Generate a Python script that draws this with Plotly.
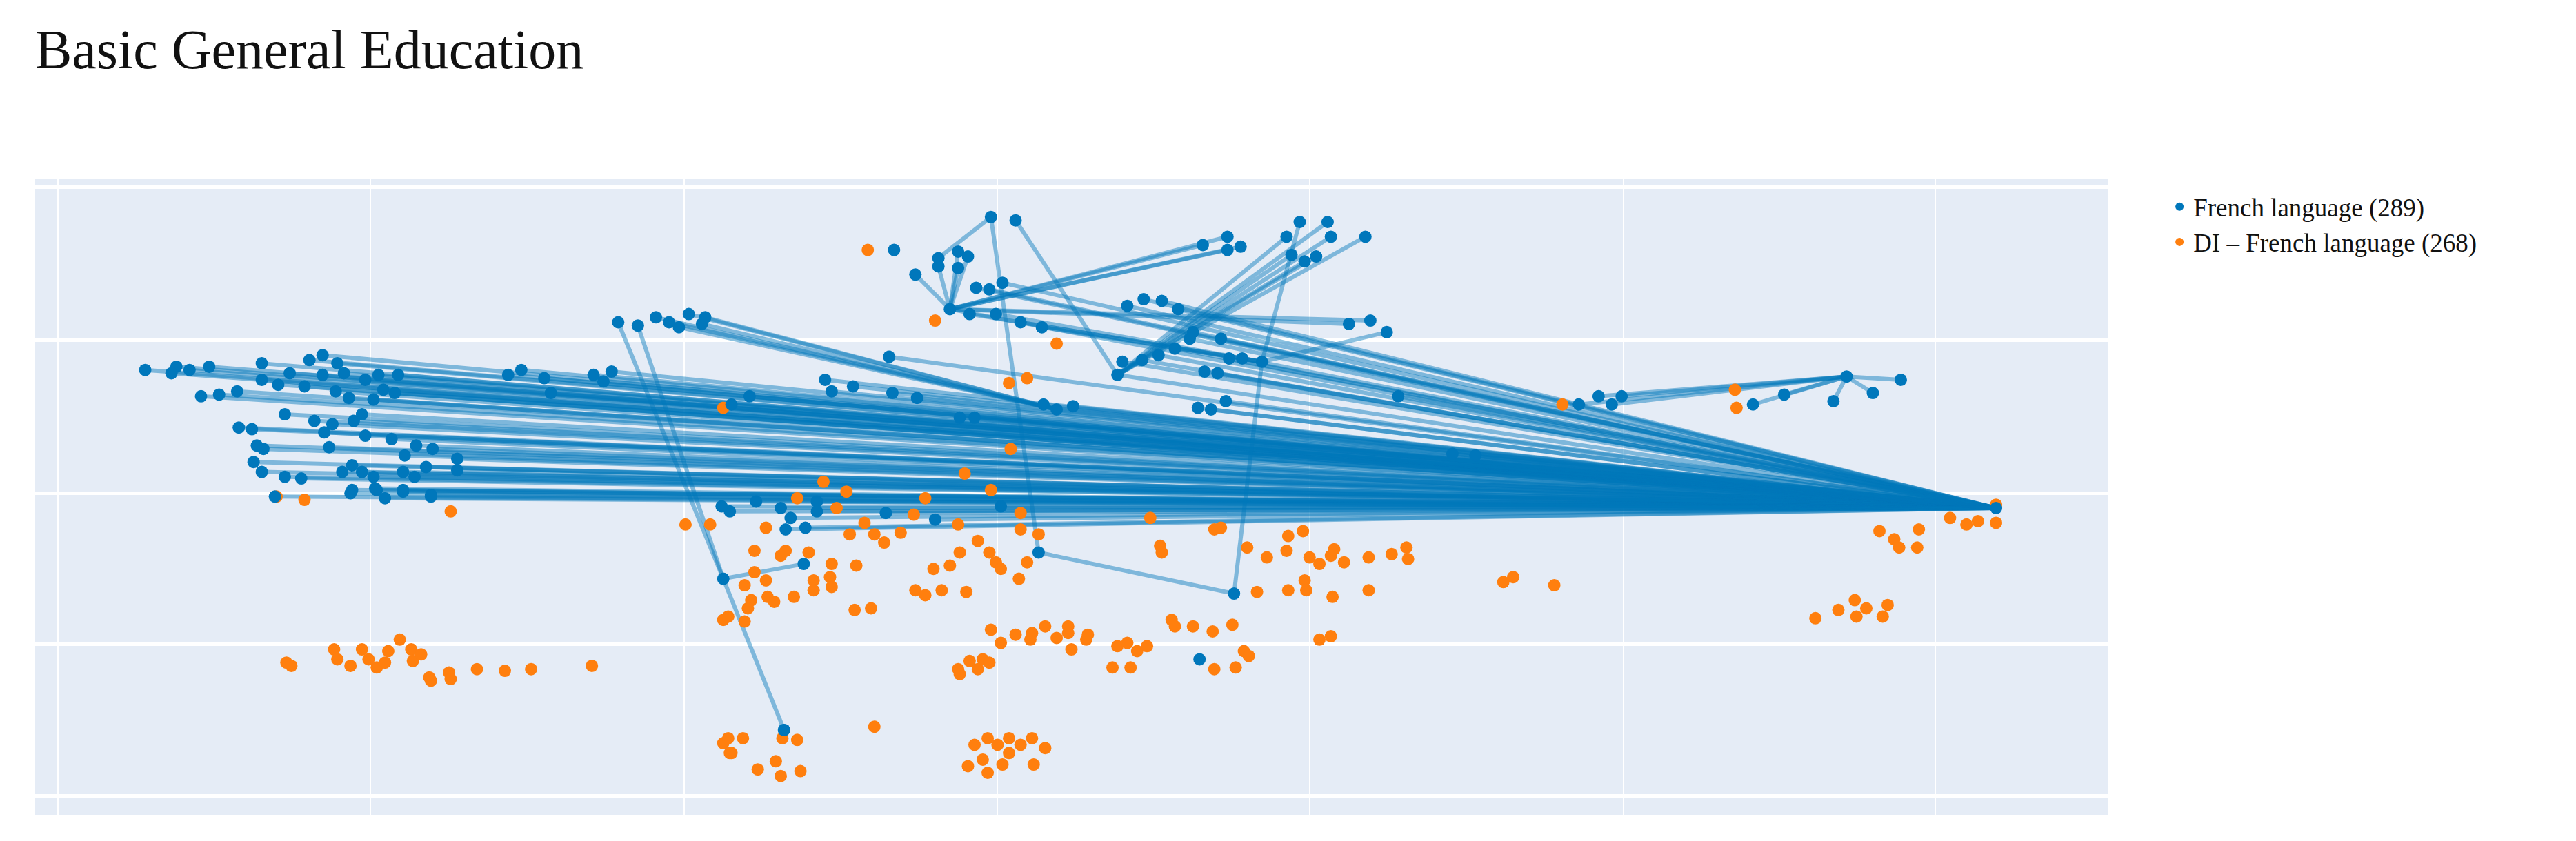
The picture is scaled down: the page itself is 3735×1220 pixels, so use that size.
import plotly.graph_objects as go

# ---- data (axis units are arbitrary, no tick labels shown) ----
x_grid = [32, 222, 413, 604, 794, 985, 1175]
y_grid = [111, 204, 297, 389, 481]

# key nodes that other nodes link to
key_names = ["hub", "k1", "k2", "k3", "k4", "k5", "k6", "k7", "k8", "k9", "k10", "k11", "k12", "k13"]
key_x = [1212, 640, 575, 437, 474, 1121, 748, 765, 600, 629, 568, 677, 606, 615]
key_y = [306, 246, 185, 349, 441, 226, 358, 217, 129, 333, 154, 225, 305, 131]
key_to = [None, "hub", "hub", "k4", None, None, None, "k6", "k9", "k6", "k8", "hub", "hub", "k11"]

left_x = [85, 104, 101, 112, 124, 156, 156, 173, 166, 182, 185, 193, 193, 202, 206, 201, 209, 219, 227, 230,
          239, 237, 224, 119, 130, 141, 170, 188, 199, 212, 217, 142, 150, 219, 194, 197, 235, 250, 260, 275,
          153, 157, 151, 156, 170, 180, 205, 211, 217, 224, 242, 243, 249, 256, 211, 225, 242, 259, 164, 275,
          210, 226, 231, 242, 259]
left_y = [222, 220, 224, 222, 220, 218, 228, 224, 231, 232, 216, 213, 225, 218, 224, 235, 239, 228, 225, 234,
          225, 236, 240, 238, 237, 235, 249, 253, 255, 253, 249, 257, 258, 262, 260, 269, 264, 268, 270, 276,
          268, 270, 278, 284, 287, 288, 284, 280, 284, 287, 284, 274, 287, 281, 295, 294, 295, 298, 299, 283,
          297, 295, 300, 296, 299]

mid_x = [306, 314, 328, 358, 369, 364, 332, 499, 516, 503, 540, 555, 538, 581, 590, 453, 442,
         632, 650, 726, 734, 743, 680, 692, 702, 712, 723, 721, 740, 745, 753, 730, 738,
         457, 441, 472, 478, 475, 487, 494, 494, 536, 566, 436, 591, 599, 607, 683, 693, 704, 714,
         848, 881, 895]
mid_y = [225, 222, 227, 225, 223, 229, 236, 228, 232, 235, 236, 239, 214, 251, 251, 238, 243,
         243, 244, 245, 246, 241, 217, 216, 213, 209, 199, 203, 203, 215, 215, 223, 224,
         302, 308, 306, 312, 319, 318, 302, 308, 309, 313, 305, 172, 173, 169, 183, 179, 180, 185,
         238, 273, 274]

arc_x = [396, 404, 410, 416, 424, 426]
arc_y = [190, 193, 196, 188, 194, 190]

steep_x = [373, 385, 486]
steep_y = [193, 195, 340]

top_x = [580, 586, 580, 568, 554, 729, 744, 744, 752, 818, 831]
top_y = [150, 153, 160, 159, 164, 146, 141, 149, 147, 194, 192]

drop_x = [587, 603, 618, 631, 841, 788]
drop_y = [188, 188, 193, 196, 199, 132]

ne_x = [780, 807, 828, 783, 791, 798, 805]
ne_y = [141, 141, 141, 152, 156, 153, 132]

east_x = [958, 970, 978, 984, 1064, 1083, 1113, 1137, 1154]
east_y = [243, 238, 243, 238, 243, 237, 241, 236, 228]

lone_x = [541, 727, 474]
lone_y = [149, 398, 441]

orange_x = [525, 566, 640, 611, 622, 165, 182, 271, 414, 429, 437, 437, 442,
            171, 174, 200, 202, 210, 217, 221, 226, 233, 231, 240, 247, 248, 253, 258, 259, 270, 271, 287, 304, 320, 357,
            463, 456, 472, 475, 456, 463, 450, 464, 468, 454, 452, 440, 450, 480, 492, 492, 502, 503, 503, 518, 517, 527,
            489, 506, 523, 514, 529, 535, 545, 580, 592, 581, 599, 603, 606, 618, 618, 629, 622, 617, 565, 575, 554, 560,
            570, 585, 697, 703, 704, 736, 740, 756, 768, 780, 781, 790, 794, 800, 807, 809, 815, 830, 844, 853, 854,
            762, 781, 791, 792, 808, 830, 710, 712, 723, 735, 747, 754, 757, 736, 749, 674, 677, 683, 685, 689, 695,
            800, 807, 600, 606, 615, 624, 625, 633, 640, 647, 647, 649, 658, 659, 580, 581, 587, 592, 595, 599,
            440, 449, 441, 458, 469, 472, 473, 482, 484, 529, 586, 590, 595, 598, 598, 604, 607, 611, 611, 618, 625,
            626, 633, 948, 1053, 1054, 1184, 1194, 1201, 1212, 1212, 1141, 1150, 1153, 1165, 1164, 912, 918, 943,
            1102, 1116, 1126, 1127, 1133, 1143, 1146, 482, 498, 512, 560, 600, 612, 553, 584, 437]
orange_y = [149, 192, 206, 230, 227, 299, 301, 308, 316, 316, 374, 449, 455,
            400, 402, 392, 398, 402, 392, 398, 403, 393, 400, 386, 392, 399, 395, 409, 411, 406, 410, 404, 405, 404, 402,
            318, 332, 335, 332, 345, 350, 353, 360, 363, 362, 367, 372, 375, 360, 350, 356, 348, 340, 354, 341, 368, 367,
            333, 306, 315, 322, 322, 327, 321, 316, 326, 333, 333, 339, 343, 319, 309, 322, 339, 349, 343, 341, 356, 359,
            356, 357, 312, 329, 333, 319, 318, 330, 336, 332, 323, 320, 336, 340, 335, 331, 339, 336, 334, 330, 337,
            357, 356, 350, 356, 360, 356, 374, 378, 378, 381, 377, 393, 396, 404, 403, 403, 390, 388, 403, 393, 390,
            386, 384, 380, 388, 383, 386, 382, 378, 385, 378, 382, 392, 386, 383, 404, 407, 399, 404, 398, 400,
            446, 446, 455, 465, 460, 469, 446, 447, 466, 439, 463, 450, 459, 446, 467, 450, 462, 446, 455, 450, 446,
            462, 452, 243, 234, 245, 312, 316, 314, 315, 304, 320, 325, 330, 319, 330, 351, 348, 353,
            373, 368, 362, 372, 367, 372, 365, 300, 290, 296, 300, 295, 270, 310, 285, 245]

blue_groups = [
    (left_x, left_y, "hub"),
    (mid_x, mid_y, "hub"),
    (arc_x, arc_y, "k1"),
    (steep_x, steep_y, "k3"),
    (top_x, top_y, "k2"),
    (drop_x, drop_y, "k7"),
    (ne_x, ne_y, "k11"),
    (east_x, east_y, "k5"),
    (lone_x, lone_y, None),
]

# ---- build traces ----
key_pos = dict(zip(key_names, zip(key_x, key_y)))
bx, by, ex, ey = [], [], [], []
for xs, ys, tgt in blue_groups:
    for x, y in zip(xs, ys):
        bx.append(x)
        by.append(y)
        if tgt:
            tx, ty = key_pos[tgt]
            ex += [x, tx, None]
            ey += [y, ty, None]
for n, x, y, t in zip(key_names, key_x, key_y, key_to):
    bx.append(x)
    by.append(y)
    if t:
        tx, ty = key_pos[t]
        ex += [x, tx, None]
        ey += [y, ty, None]

BLUE = "#0077bb"
ORANGE = "#ff7f0e"

fig = go.Figure()
fig.add_trace(go.Scatter(x=ex, y=ey, mode="lines", showlegend=False, hoverinfo="skip",
                         line=dict(color="rgba(0,119,187,0.45)", width=6)))
fig.add_trace(go.Scatter(x=orange_x, y=orange_y, mode="markers", name="DI \u2013 French language (268)",
                         marker=dict(color=ORANGE, size=18)))
fig.add_trace(go.Scatter(x=bx, y=by, mode="markers", name="French language (289)",
                         marker=dict(color=BLUE, size=18)))

fig.update_layout(
    width=3735, height=1220, autosize=False,
    title=dict(text="Basic General Education", x=0.0115, xanchor="left", y=0.948, yanchor="middle",
               font=dict(family="Liberation Serif", size=80, color="#111111")),
    paper_bgcolor="white", plot_bgcolor="#e5ecf6",
    margin=dict(l=43, r=687, t=252, b=45),
    legend=dict(x=1.028, y=0.99, xanchor="left", yanchor="top", traceorder="reversed",
                font=dict(family="Liberation Serif", size=37, color="#111111"),
                itemsizing="constant", tracegroupgap=10),
    font=dict(family="Liberation Serif"),
)
fig.update_xaxes(range=[18, 1280], tickvals=x_grid, showticklabels=False, gridcolor="white",
                 gridwidth=2, zeroline=False, showline=False)
fig.update_yaxes(range=[493, 106], tickvals=y_grid, showticklabels=False, gridcolor="white",
                 gridwidth=5, zeroline=False, showline=False)

fig.write_html("out.html")
